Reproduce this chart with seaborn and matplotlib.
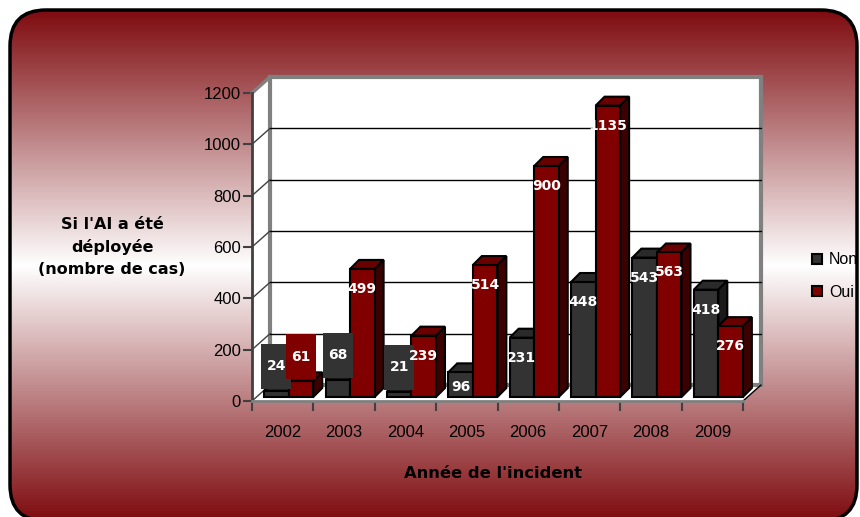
import numpy as np
import pandas as pd
import matplotlib
matplotlib.use("Agg")
import matplotlib.pyplot as plt
import seaborn as sns
from matplotlib import font_manager
from matplotlib.patches import Polygon, Rectangle, FancyBboxPatch, Patch
from matplotlib.lines import Line2D
from matplotlib.transforms import IdentityTransform, Affine2D
from matplotlib.colors import LinearSegmentedColormap

# ---------------- data ----------------
years = ["2002", "2003", "2004", "2005", "2006", "2007", "2008", "2009"]
non = [24, 68, 21, 96, 231, 448, 543, 418]
oui = [61, 499, 239, 514, 900, 1135, 563, 276]
series = ["Non", "Oui"]
yticks = [0, 200, 400, 600, 800, 1000, 1200]
ylabel = "Si l'AI a été\ndéployée\n(nombre de cas)"
xlabel = "Année de l'incident"

df = pd.DataFrame({
    "Année": years * 2,
    "Statut": [series[0]] * len(years) + [series[1]] * len(years),
    "Cas": non + oui,
})

front = {"Non": "#333333", "Oui": "#800000"}
topc = {"Non": "#2a2a2a", "Oui": "#680000"}
sidec = {"Non": "#1a1a1a", "Oui": "#3c0000"}

sns.set_theme(style="white")
try:
    font_manager.findfont("Liberation Sans Narrow", fallback_to_default=False)
    tick_font, tick_size, leg_size = "Liberation Sans Narrow", 13, 13
except Exception:
    tick_font, tick_size, leg_size = "Liberation Sans", 12, 11.5
plt.rcParams["font.family"] = [tick_font, "DejaVu Sans"]
plt.rcParams["text.color"] = "black"

W, H = 860, 517
fig = plt.figure(figsize=(W / 100, H / 100), dpi=100)

# ---------------- background (rounded gradient panel) ----------------
bg = fig.add_axes([0, 0, 1, 1])
bg.set_xlim(0, W)
bg.set_ylim(0, H)
bg.axis("off")
cmap = LinearSegmentedColormap.from_list(
    "g", [(0, "#7e0b0f"), (0.5, "#ffffff"), (1, "#7e0b0f")])
grad = np.linspace(0, 1, 512)[:, None]
im = bg.imshow(grad, cmap=cmap, extent=(10, 857, -4, 507), aspect="auto", zorder=0)
panel = FancyBboxPatch((10, -4), 847, 511, boxstyle="round,pad=0,rounding_size=36",
                       facecolor="none", edgecolor="black", lw=2.5, transform=bg.transData,
                       zorder=1, clip_on=False)
bg.add_patch(panel)
im.set_clip_path(panel)

# ---------------- main axes ----------------
ax = fig.add_axes([252 / W, 116 / H, 491 / W, 308 / H])
ax.patch.set_alpha(0)
sns.barplot(data=df, x="Année", y="Cas", hue="Statut", palette=front, width=0.8,
            saturation=1, edgecolor="black", linewidth=1.5, errorbar=None, legend=False, ax=ax)
bars = [b for b in ax.patches if isinstance(b, Rectangle) and b.get_width() > 0]
bars = sorted(bars, key=lambda p: p.get_x())
ax.set_xlim(-0.5, len(years) - 0.5)
ax.set_ylim(yticks[0], yticks[-1])
ax.set_xlabel("")
ax.set_ylabel("")

T = ax.transData
DX, DY = 18, 16          # depth of the 3D box (px)
SX, SY = 6, 4            # shift of bars into the box
BD = 9                   # bar depth (px)
ID = IdentityTransform()


def P(x, y):
    return np.array(T.transform((x, y)))


xl, xr = -0.5, len(years) - 0.5
P0, P1, P2, P3 = P(xl, 0), P(xl, yticks[-1]), P(xr, 0), P(xr, yticks[-1])
D = np.array([DX, DY])

# floor
ax.add_patch(Polygon([P0, P2, P2 + D, P0 + D], closed=True, facecolor="white",
                     edgecolor="none", transform=ID, zorder=0.5, clip_on=False))
ax.add_line(Line2D([P2[0], P2[0] + DX], [P2[1], P2[1] + DY], color="black", lw=1,
                   transform=ID, zorder=0.6, clip_on=False))
# left wall
ax.add_patch(Polygon([P0, P1, P1 + D, P0 + D], closed=True, facecolor="white",
                     edgecolor="none", transform=ID, zorder=0.5, clip_on=False))
# back wall
ax.add_patch(Rectangle(P0 + D, (P3 - P0)[0], (P3 - P0)[1], facecolor="white",
                       edgecolor="#808080", lw=3, transform=ID, zorder=0.55, clip_on=False))
for v in yticks:
    a = P(xl, v)
    ax.add_line(Line2D([a[0], a[0] + DX], [a[1], a[1] + DY],
                       color="#808080" if v == yticks[-1] else "#404040",
                       lw=2.5 if v == yticks[-1] else 1, transform=ID, zorder=0.7, clip_on=False))
    if 0 < v < yticks[-1]:
        b = P(xr, v)
        ax.add_line(Line2D([a[0] + DX, b[0] + DX], [a[1] + DY, b[1] + DY], color="black",
                           lw=1, transform=ID, zorder=0.7, clip_on=False))

# ---------------- 3D faces & labels for bars ----------------
non_hex = matplotlib.colors.to_hex(front["Non"])
for i, b in enumerate(bars):
    fc = matplotlib.colors.to_hex(b.get_facecolor())
    s = "Non" if fc == non_hex else "Oui"
    b.set_transform(T + Affine2D().translate(SX, SY))
    b.set_zorder(3 + 2 * i + 1)
    b.set_clip_on(False)
    x0, x1, h = b.get_x(), b.get_x() + b.get_width(), b.get_height()
    X0, Yb = P(x0, 0) + [SX, SY]
    X1, Yt = P(x1, h) + [SX, SY]
    ax.add_patch(Polygon([(X0, Yt), (X1, Yt), (X1 + BD, Yt + BD), (X0 + BD, Yt + BD)],
                         closed=True, facecolor=topc[s], edgecolor="black", lw=1.5,
                         transform=ID, zorder=3 + 2 * i, clip_on=False))
    ax.add_patch(Polygon([(X1, Yb), (X1, Yt), (X1 + BD, Yt + BD), (X1 + BD, Yb + BD)],
                         closed=True, facecolor=sidec[s], edgecolor="black", lw=1.5,
                         transform=ID, zorder=3 + 2 * i, clip_on=False))
    cx = (X0 + X1) / 2
    hp = Yt - Yb
    if hp >= 40:
        cy = Yt - 20
    elif hp >= 20:
        cy = (Yt + Yb) / 2 - 2
    else:
        bottom = Yt + 2
        ax.add_patch(Rectangle((cx - 15, bottom), 30, 45, facecolor=front[s],
                               edgecolor="none", transform=ID, zorder=40, clip_on=False))
        cy = bottom + 22.5
    ax.text(cx, cy, f"{int(round(h))}", transform=ID, ha="center", va="center",
            color="white", fontsize=10, fontweight="bold", family="DejaVu Sans",
            zorder=41, clip_on=False)

# ---------------- axes styling ----------------
for sp in ["top", "right"]:
    ax.spines[sp].set_visible(False)
ax.spines["left"].set_color("#404040")
ax.spines["left"].set_linewidth(2)
ax.spines["bottom"].set_color("#808080")
ax.spines["bottom"].set_linewidth(2)
ax.spines["left"].set_zorder(2)
ax.spines["bottom"].set_zorder(2)

ax.set_yticks(yticks)
ax.set_yticklabels([str(v) for v in yticks])
ax.tick_params(axis="y", left=True, length=6.5, width=1.5, color="#404040", pad=1.5,
               labelsize=tick_size, labelcolor="black")
ax.set_xticks(np.arange(-0.5, len(years), 1))
ax.set_xticklabels([])
ax.set_xticks(range(len(years)), labels=years, minor=True)
ax.tick_params(axis="x", which="major", bottom=True, length=7.5, width=1.5, color="#404040")
ax.tick_params(axis="x", which="minor", bottom=True, length=0, pad=17, labelsize=tick_size,
               labelcolor="black")
ax.grid(False)

# titles
fig.text(112 / W, 1 - 247 / H, ylabel, ha="center", va="center", multialignment="center",
         fontsize=11.5, fontweight="bold", family="DejaVu Sans", linespacing=1.55,
         color="black")
fig.text(493 / W, 1 - 473 / H, xlabel, ha="center", va="center",
         fontsize=11.8, fontweight="bold", family="DejaVu Sans", color="black")

# legend
handles = [Patch(facecolor=front[s], edgecolor="black", lw=1.5) for s in series]
leg = fig.legend(handles, series, loc="center left", bbox_to_anchor=(812 / W, 1 - 276 / H),
                 frameon=False, borderpad=0, borderaxespad=0, handlelength=0.6,
                 handleheight=0.6, handletextpad=0.45, labelspacing=1.1, fontsize=leg_size)
for t in leg.get_texts():
    t.set_color("black")

fig.savefig("out.png", dpi=100)
